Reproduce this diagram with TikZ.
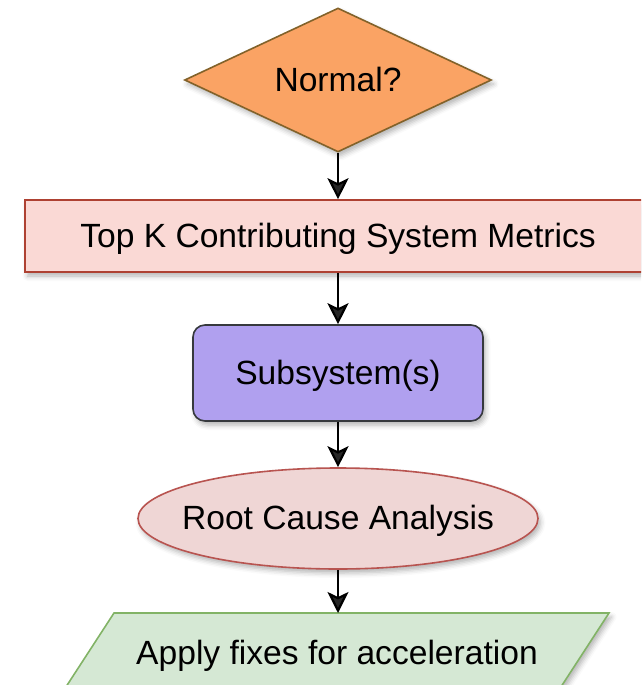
\documentclass[tikz,border=0pt]{standalone}
\usepackage{fontspec}
\setmainfont{Liberation Sans}
\usetikzlibrary{shapes.geometric, arrows.meta, shadows.blur}

\definecolor{decfill}{HTML}{FAA364}
\definecolor{decline}{HTML}{82622A}
\definecolor{metfill}{HTML}{FAD9D5}
\definecolor{metline}{HTML}{AE4132}
\definecolor{subfill}{HTML}{B0A0EF}
\definecolor{subline}{HTML}{36393D}
\definecolor{rcafill}{HTML}{EFD6D5}
\definecolor{rcaline}{HTML}{B85450}
\definecolor{fixfill}{HTML}{D5E8D4}
\definecolor{fixline}{HTML}{82B366}

\begin{document}
\begin{tikzpicture}[x=1pt, y=-1pt,
  every node/.style={font=\fontsize{33.6}{40}\selectfont, inner sep=0pt,
      text height=28pt, text depth=6pt, line width=1.6pt},
  soft/.style={blur shadow={shadow xshift=2.5pt, shadow yshift=-4pt,
      shadow blur radius=5pt, shadow opacity=30}},
  link/.style={line width=2.2pt, -{Stealth[length=21pt, width=21pt, inset=5pt]}}
]
\useasboundingbox (0,0) rectangle (641,685);
\clip (0,0) rectangle (641,685);

% flow steps, top to bottom; zero-width labels let the minimum sizes set each shape
\node[diamond, soft, draw=decline, fill=decfill,
      minimum width=307pt, minimum height=144pt] (normal) at (338,80)
      {\makebox[0pt]{Normal?}};
\node[rectangle, soft, draw=metline, fill=metfill,
      minimum width=626pt, minimum height=72pt] (metrics) at (338,236)
      {Top K Contributing System Metrics};
\node[rectangle, rounded corners=12pt, soft, draw=subline, fill=subfill,
      minimum width=290pt, minimum height=96pt] (subsys) at (338,373)
      {Subsystem(s)};
\node[ellipse, soft, draw=rcaline, fill=rcafill,
      minimum width=400pt, minimum height=101pt] (rca) at (338,518.5)
      {\makebox[0pt]{Root Cause Analysis}};

% slanted input box for the final step
\path[soft, draw=fixline, fill=fixfill, line width=1.6pt]
  (114,613) -- (609,613) -- (557,693) -- (62,693) -- cycle;
\coordinate (fixtop) at (338,613);
\node (fix) at (337,653) {Apply fixes for acceleration};

% connectors
\draw[link] (normal.south) -- (metrics.north);
\draw[link] (metrics.south) -- (subsys.north);
\draw[link] (subsys.south) -- (rca.north);
\draw[link] (rca.south) -- (fixtop);
\end{tikzpicture}
\end{document}
